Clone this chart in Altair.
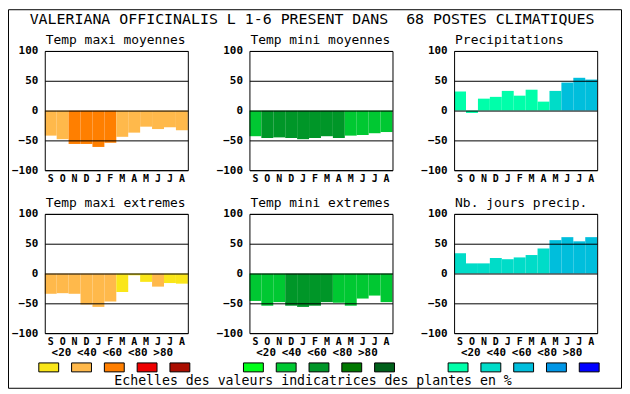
import altair as alt
import pandas as pd

MONO = "DejaVu Sans Mono"

months = ["Septembre", "Octobre", "Novembre", "Decembre", "Janvier", "Fevrier",
          "Mars", "Avril", "Mai", "Juin", "Juillet", "Aout"]
classes = ["<20", "<40", "<60", "<80", ">80"]

warm = ["#FAE619", "#FFB94B", "#FF7F00", "#EE0000", "#AA0D00"]
green = ["#00FF19", "#00C832", "#009628", "#007800", "#00601A"]
blue = ["#00FFAA", "#00DCC8", "#00BEDC", "#0096E6", "#0000FF"]

tmax_moy = [-42, -48, -56, -56, -61, -54, -44, -37, -27, -31, -28, -33]
tmax_moy_cls = ["<40", "<40", "<60", "<60", "<60", "<60", "<40", "<40", "<40", "<40", "<40", "<40"]

tmin_moy = [-43, -46, -45, -46, -48, -46, -43, -46, -42, -41, -38, -36]
tmin_moy_cls = ["<40", "<60", "<60", "<60", "<60", "<60", "<60", "<60", "<40", "<40", "<40", "<40"]

precip = [32, -4, 20, 23, 33, 25, 35, 15, 33, 47, 55, 52]
precip_cls = ["<20", "<20", "<20", "<20", "<20", "<20", "<20", "<20", "<40", "<60", "<60", "<60"]

tmax_ext = [-34, -33, -34, -52, -56, -47, -31, -3, -14, -22, -16, -17]
tmax_ext_cls = ["<40", "<40", "<40", "<40", "<40", "<40", "<20", "<20", "<20", "<40", "<20", "<20"]

tmin_ext = [-46, -54, -48, -54, -56, -54, -48, -49, -54, -42, -37, -48]
tmin_ext_cls = ["<40", "<40", "<40", "<60", "<60", "<60", "<60", "<40", "<40", "<40", "<40", "<40"]

jours = [34, 17, 17, 26, 24, 27, 31, 42, 56, 61, 54, 61]
jours_cls = ["<40", "<40", "<40", "<40", "<40", "<40", "<40", "<40", "<60", "<60", "<60", "<60"]

main_title = "VALERIANA OFFICINALIS L 1-6 PRESENT DANS \u00a068 POSTES CLIMATIQUES"
footer = "Echelles des valeurs indicatrices des plantes en %"

one = pd.DataFrame({"k": [0]})


def frame():
    return alt.Chart(one).mark_rect(filled=False, stroke="black", strokeWidth=1).encode(
        x=alt.value(0.5), x2=alt.value(144.5), y=alt.value(0.5), y2=alt.value(120.5)
    )


def title_text(t):
    return alt.Chart(one).mark_text(font=MONO, fontSize=13, align="left",
                                    baseline="alphabetic", color="black").encode(
        x=alt.value(1), y=alt.value(-7), text=alt.value(t))


def panel(title, values, cls, palette, legend=False, extras=None):
    df = pd.DataFrame({"mois": months, "val": values, "cls": cls})
    bars = alt.Chart(df).mark_bar(strokeWidth=0).encode(
        x=alt.X("mois:N", sort=months,
                scale=alt.Scale(paddingInner=0, paddingOuter=0),
                axis=alt.Axis(title=None, labelExpr="slice(datum.value,0,1)", labelAngle=0,
                              ticks=False, domain=False, grid=False, labelPadding=3,
                              labelBaseline="top", labelFontSize=10)),
        y=alt.Y("val:Q", scale=alt.Scale(domain=[-100, 100], nice=False),
                axis=alt.Axis(title=None, values=[-100, -50, 0, 50, 100], grid=True,
                              gridColor="black", gridOpacity=1, gridWidth=1, ticks=False,
                              domain=False, labelPadding=7, zindex=1)),
        color=alt.Color("cls:N", scale=alt.Scale(domain=classes, range=palette), legend=None),
    )
    layers = [bars, frame(), title_text(title)]
    if legend:
        ldf = pd.DataFrame({"cls": classes})
        boxes = alt.Chart(ldf).mark_bar(stroke="black", strokeWidth=1).encode(
            x=alt.X("cls:N", sort=classes,
                    scale=alt.Scale(range=[-6, 146], paddingInner=0.394, paddingOuter=0),
                    axis=None),
            y=alt.value(150), y2=alt.value(159),
            color=alt.Color("cls:N", scale=alt.Scale(domain=classes, range=palette), legend=None),
        )
        labels = alt.Chart(ldf).mark_text(font=MONO, fontSize=11, fontWeight="bold",
                                          align="center", baseline="alphabetic",
                                          color="black").encode(
            x=alt.X("cls:N", sort=classes, scale=alt.Scale(type="point", range=[4, 132]),
                    axis=None),
            y=alt.value(143.5),
            text="cls:N",
        )
        layers += [boxes, labels]
    if extras:
        layers += extras
    ch = alt.layer(*layers).properties(width=144, height=120)
    if legend:
        ch = ch.resolve_scale(x="independent")
    return ch


title_mark = alt.Chart(one).mark_text(font=MONO, fontSize=15, align="center",
                                      baseline="alphabetic", color="black").encode(
    x=alt.value(269), y=alt.value(-27), text=alt.value(main_title))
footer_mark = alt.Chart(one).mark_text(font=MONO, fontSize=13.3, align="center",
                                       baseline="alphabetic", color="black").encode(
    x=alt.value(270), y=alt.value(336.5), text=alt.value(footer))
border = alt.Chart(one).mark_rect(filled=False, stroke="black", strokeWidth=1).encode(
    x=alt.value(-36.5), x2=alt.value(580.5), y=alt.value(-41.5), y2=alt.value(339.5))

p1 = panel("Temp maxi moyennes", tmax_moy, tmax_moy_cls, warm,
           extras=[title_mark, footer_mark, border])
p2 = panel("Temp mini moyennes", tmin_moy, tmin_moy_cls, green)
p3 = panel("Precipitations", precip, precip_cls, blue)
p4 = panel("Temp maxi extremes", tmax_ext, tmax_ext_cls, warm, legend=True)
p5 = panel("Temp mini extremes", tmin_ext, tmin_ext_cls, green, legend=True)
p6 = panel("Nb. jours precip.", jours, jours_cls, blue, legend=True)

chart = alt.concat(p1, p2, p3, p4, p5, p6, columns=3,
                   spacing={"row": 44, "column": 62}, bounds="flush").resolve_scale(
    color="independent"
).properties(padding=0, background="white").configure_view(strokeWidth=0).configure_axis(
    labelFont=MONO, labelFontWeight="bold", labelFontSize=11, labelColor="black"
)

chart.save("out.html", embed_options={"renderer": "svg", "actions": False})
